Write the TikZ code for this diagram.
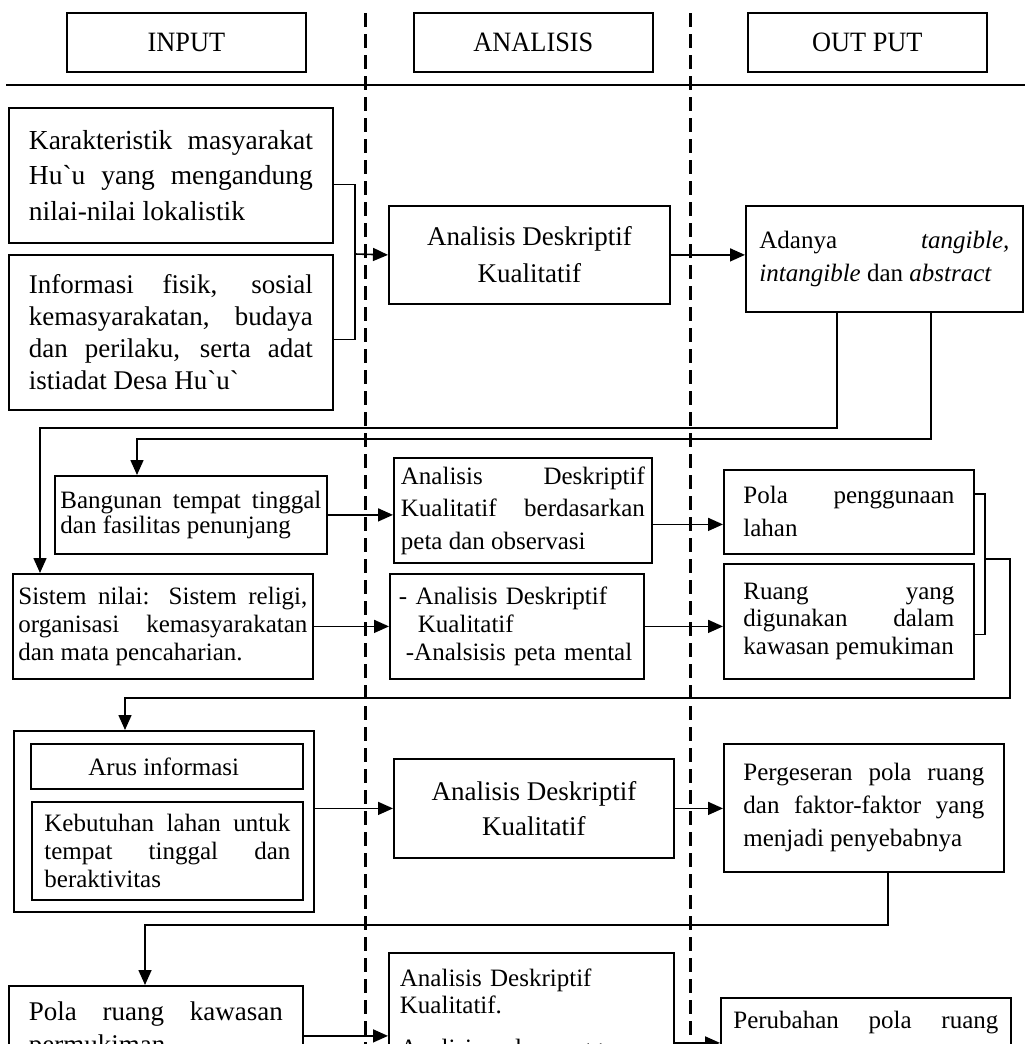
\documentclass[tikz,border=0pt]{standalone}
\usepackage{fontspec}
\setmainfont{Liberation Serif}
\newfontfamily\hdrfont{Liberation Serif}[FakeStretch=0.94]
\usetikzlibrary{arrows.meta,calc}
\newcommand{\fsz}[2]{\fontsize{#1}{#2}\selectfont}
\tolerance=10000
\hbadness=10000
\hyphenpenalty=10000
\exhyphenpenalty=10000

\begin{document}
\begin{tikzpicture}[
  x=1pt, y=-1pt,
  >={Triangle[length=15pt,width=13pt]},
  hdrbox/.style={
    draw,
    line width=1.8pt,
    minimum width=239pt,
    minimum height=59pt,
    inner sep=0pt,
    font=\hdrfont\fsz{28}{30},
    anchor=north west
  },
  flowbox/.style={
    draw,
    line width=1.8pt,
    inner sep=0pt,
    align=justify,
    font=\fsz{25}{28},
    anchor=north west
  },
  wire/.style={line width=1.6pt},
  flow/.style={wire, ->},
  divider/.style={line width=3pt, dash pattern=on 14pt off 7pt}
]
  \useasboundingbox (0,0) rectangle (1025,1044);
  \clip (0,0) rectangle (1025,1044);

  % ----------------------------------------------------
  % COLUMN HEADERS
  % ----------------------------------------------------
  \node[hdrbox] (h_in) at (66,12) {INPUT};
  \node[hdrbox] (h_an) at (413,12) {ANALISIS};
  \node[hdrbox] (h_out) at (747,12) {OUT PUT};

  \draw[line width=1.6pt] (6,85) -- (1025,85);
  \draw[divider] (365,13) -- (365,1044);
  \draw[divider] (690,13) -- (690,1044);

  % ----------------------------------------------------
  % ROW 1
  % ----------------------------------------------------
  \node[flowbox, minimum width=324pt, minimum height=135pt, text width=284pt, font=\fsz{27.5}{35.5}] (in_kar) at (8,107) {
    Karakteristik masyarakat\linebreak
    Hu\textasciigrave u yang mengandung\linebreak
    nilai-nilai lokalistik
  };

  \node[flowbox, minimum width=324pt, minimum height=155pt, text width=284pt, font=\fsz{27}{32}] (in_inf) at (8,254) {
    Informasi fisik, sosial\linebreak
    kemasyarakatan, budaya\linebreak
    dan perilaku, serta adat\linebreak
    istiadat Desa Hu\textasciigrave u\textasciigrave
  };

  \node[flowbox, minimum width=281pt, minimum height=98pt, align=center, font=\fsz{27}{37}] (an_1) at (388,205) {
    Analisis Deskriptif\\Kualitatif
  };

  \node[flowbox, minimum width=277pt, minimum height=106pt, text width=250pt, font=\fsz{25}{33}] (out_1) at (745,205) {
    Adanya \textit{tangible,}\linebreak
    \textit{intangible} dan \textit{abstract}
  };

  % ----------------------------------------------------
  % ROW 2
  % ----------------------------------------------------
  \node[flowbox, minimum width=272pt, minimum height=78pt, text width=261pt, font=\fsz{25}{25}] (in_bang) at (54,475) {
    Bangunan tempat tinggal\linebreak
    dan fasilitas penunjang
  };

  \node[flowbox, minimum width=258pt, minimum height=105pt, text width=244pt, font=\fsz{25}{32.5}] (an_2) at (393,457) {
    Analisis Deskriptif\linebreak
    Kualitatif berdasarkan\linebreak
    peta dan observasi
  };

  \node[flowbox, minimum width=250pt, minimum height=84pt, text width=211pt, font=\fsz{25}{33}] (out_pola) at (723,469) {
    Pola penggunaan\linebreak
    lahan
  };

  \node[flowbox, minimum width=300pt, minimum height=105pt, text width=289pt] (in_sis) at (12,573) {
    Sistem nilai: Sistem religi,\linebreak
    organisasi kemasyarakatan\linebreak
    dan mata pencaharian.
  };

  \node[flowbox, minimum width=254pt, minimum height=105pt, text width=236pt, align=left] (an_3) at (389,573) {
    - Analisis Deskriptif\\
    \hspace*{19pt}Kualitatif\\
    \hspace*{7pt}-Analsisis peta mental
  };

  \node[flowbox, minimum width=250pt, minimum height=115pt, text width=211pt, font=\fsz{25}{27.5}] (out_ruang) at (723,563) {
    Ruang yang\linebreak
    digunakan dalam\linebreak
    kawasan pemukiman
  };

  % ----------------------------------------------------
  % ROW 3
  % ----------------------------------------------------
  \node[draw, line width=1.8pt, minimum width=300pt, minimum height=181pt, anchor=north west] (in_grp) at (13,730) {};

  \node[flowbox, minimum width=272pt, minimum height=45pt, align=center] (in_arus) at (30,743) {
    Arus informasi
  };

  \node[flowbox, minimum width=271pt, minimum height=98pt, text width=246pt] (in_keb) at (31,801) {
    Kebutuhan lahan untuk\linebreak
    tempat tinggal dan\linebreak
    beraktivitas
  };

  \node[flowbox, minimum width=280pt, minimum height=99pt, align=center, font=\fsz{27}{35}] (an_4) at (393,758) {
    Analisis Deskriptif\\Kualitatif
  };

  \node[flowbox, minimum width=280pt, minimum height=128pt, text width=241pt, font=\fsz{25}{33}] (out_perg) at (723,743) {
    Pergeseran pola ruang\linebreak
    dan faktor-faktor yang\linebreak
    menjadi penyebabnya
  };

  % ----------------------------------------------------
  % ROW 4 (cut by the page edge)
  % ----------------------------------------------------
  \node[flowbox, minimum width=294pt, minimum height=90pt, text width=254pt, font=\fsz{27}{33}] (in_polar) at (8,985) {
    Pola ruang kawasan\linebreak
    permukiman
  };

  \node[flowbox, minimum width=285pt, minimum height=124pt, text width=263pt, align=left, font=\fsz{25}{27}] (an_5) at (388,952) {
    Analisis Deskriptif\\
    Kualitatif.\\[16pt]
    Analisis pola penggunaan
  };

  \node[flowbox, minimum width=290pt, minimum height=77pt, text width=265pt, font=\fsz{25}{33}] (out_perub) at (720,997) {
    Perubahan pola ruang\linebreak
  };

  % Connectors
  \coordinate (j1) at (355,254);
  \draw[wire] ([yshift=-9pt]in_kar.east) -- ([yshift=-9pt]in_kar.east -| j1)
    -- ([yshift=-7pt]in_inf.east -| j1) -- ([yshift=-7pt]in_inf.east);
  \draw[flow] (j1) -- (an_1.west);
  \draw[flow] (an_1.east) -- (an_1.east -| out_1.west);

  \coordinate (t1) at (837,428);
  \coordinate (t1l) at (40,428);
  \coordinate (t2) at (931,439);
  \coordinate (t2l) at (137,439);
  \draw[flow] (out_1.south -| t1) -- (t1) -- (t1l) -- (in_sis.north -| t1l);
  \draw[flow] (out_1.south -| t2) -- (t2) -- (t2l) -- (in_bang.north -| t2l);

  \draw[flow] (in_bang.east) -- (in_bang.east -| an_2.west);
  \draw[flow] ([yshift=-14pt]an_2.east) -- ([yshift=-14pt]an_2.east -| out_pola.west);
  \draw[flow] (in_sis.east) -- (in_sis.east -| an_3.west);
  \draw[flow] (an_3.east) -- (an_3.east -| out_ruang.west);

  \coordinate (j2) at (985,559);
  \draw[wire] ([yshift=18pt]out_pola.east) -- ([yshift=18pt]out_pola.east -| j2)
    -- ([yshift=-13pt]out_ruang.east -| j2) -- ([yshift=-13pt]out_ruang.east);
  \coordinate (t3) at (1010,698);
  \coordinate (t3l) at (125,698);
  \draw[flow] (j2) -- (j2 -| t3) -- (t3) -- (t3l) -- (in_grp.north -| t3l);

  \draw[flow] (an_4.west -| in_grp.east) -- (an_4.west);
  \draw[flow] (an_4.east) -- (an_4.east -| out_perg.west);
  \coordinate (t4) at (888,925);
  \coordinate (t4l) at (145,925);
  \draw[flow] (out_perg.south -| t4) -- (t4) -- (t4l) -- (in_polar.north -| t4l);

  \draw[flow] ([yshift=-5pt]in_polar.east) -- ([yshift=-5pt]in_polar.east -| an_5.west);
  \draw[flow] ([yshift=-28pt]an_5.east) -- ([yshift=-28pt]an_5.east -| out_perub.west);

\end{tikzpicture}
\end{document}
